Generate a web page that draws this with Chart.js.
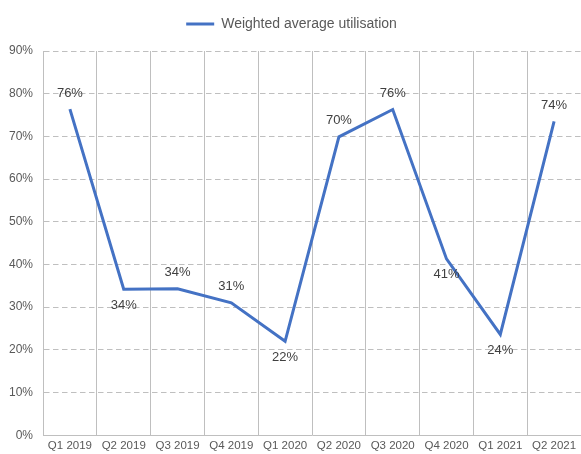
<!DOCTYPE html>
<html>
<head>
<meta charset="utf-8">
<script src="https://cdn.jsdelivr.net/npm/chart.js@4"></script>
<style>
  html, body { margin: 0; padding: 0; background: #fff; }
</style>
</head>
<body>
<canvas id="chart-line" width="581" height="454"></canvas>
<script>
var quarters = ["Q1 2019", "Q2 2019", "Q3 2019", "Q4 2019", "Q1 2020", "Q2 2020", "Q3 2020", "Q4 2020", "Q1 2021", "Q2 2021"];
var utilisation = [76.4, 34.2, 34.3, 31.0, 22.0, 69.9, 76.3, 41.3, 23.6, 73.5];
var yTicks = [0, 10, 20, 30, 40, 50, 60, 70, 80, 90];

// where each value label sits relative to its point
var labelSide = ["above", "below", "above", "above", "below", "above", "above", "below", "below", "above"];

var valueLabels = {
  id: "valueLabels",
  afterDatasetsDraw: function(chart) {
    var ctx = chart.ctx;
    var meta = chart.getDatasetMeta(0);
    ctx.save();
    ctx.font = "13px 'Liberation Sans', Arial, sans-serif";
    ctx.fillStyle = "#404040";
    ctx.textAlign = "center";
    ctx.textBaseline = "middle";
    meta.data.forEach(function(pt, i) {
      var dy = labelSide[i] === "above" ? -16 : 16;
      ctx.fillText(Math.round(utilisation[i]) + "%", pt.x, pt.y + dy);
    });
    ctx.restore();
  }
};

// extra space between legend and plot
var legendGap = {
  id: "legendGap",
  beforeInit: function(chart) {
    var fit = chart.legend.fit;
    chart.legend.fit = function() {
      fit.call(this);
      this.height += 10;
    };
  }
};

var ctx2 = document.getElementById("chart-line").getContext("2d");

new Chart(ctx2, {
  type: "line",
  data: {
    labels: quarters,
    datasets: [{
      label: "Weighted average utilisation",
      data: utilisation,
      borderColor: "#4472C4",
      backgroundColor: "#4472C4",
      borderWidth: 3,
      pointRadius: 0,
      tension: 0,
      fill: false
    }]
  },
  options: {
    responsive: false,
    animation: false,
    layout: { padding: { left: -1, right: -3, top: 3, bottom: -3 } },
    plugins: {
      legend: {
        display: true,
        position: "top",
        labels: {
          usePointStyle: true,
          pointStyle: "line",
          pointStyleWidth: 28,
          color: "#595959",
          padding: 14,
          font: { family: "'Liberation Sans', Arial, sans-serif", size: 14 }
        }
      },
      tooltip: { enabled: false }
    },
    scales: {
      x: {
        offset: true,
        grid: {
          display: true,
          offset: true,
          color: function(c) {
            return c.index === quarters.length ? "rgba(0,0,0,0)" : "#bfbfbf";
          },
          lineWidth: 1,
          drawTicks: false
        },
        border: { display: true, color: "#bfbfbf" },
        ticks: {
          color: "#595959",
          padding: 4,
          maxRotation: 0,
          autoSkip: false,
          font: { family: "'Liberation Sans', Arial, sans-serif", size: 11.5 }
        }
      },
      y: {
        min: 0,
        max: 90,
        afterBuildTicks: function(axis) {
          axis.ticks = yTicks.map(function(v) { return { value: v }; });
        },
        grid: {
          color: "#bfbfbf",
          lineWidth: 1,
          drawTicks: false
        },
        border: { display: true, color: "#bfbfbf", dash: [5.5, 3.5] },
        ticks: {
          color: "#595959",
          padding: 10,
          callback: function(v) { return v + "%"; },
          font: { family: "'Liberation Sans', Arial, sans-serif", size: 12 }
        }
      }
    }
  },
  plugins: [valueLabels, legendGap]
});
</script>
</body>
</html>
